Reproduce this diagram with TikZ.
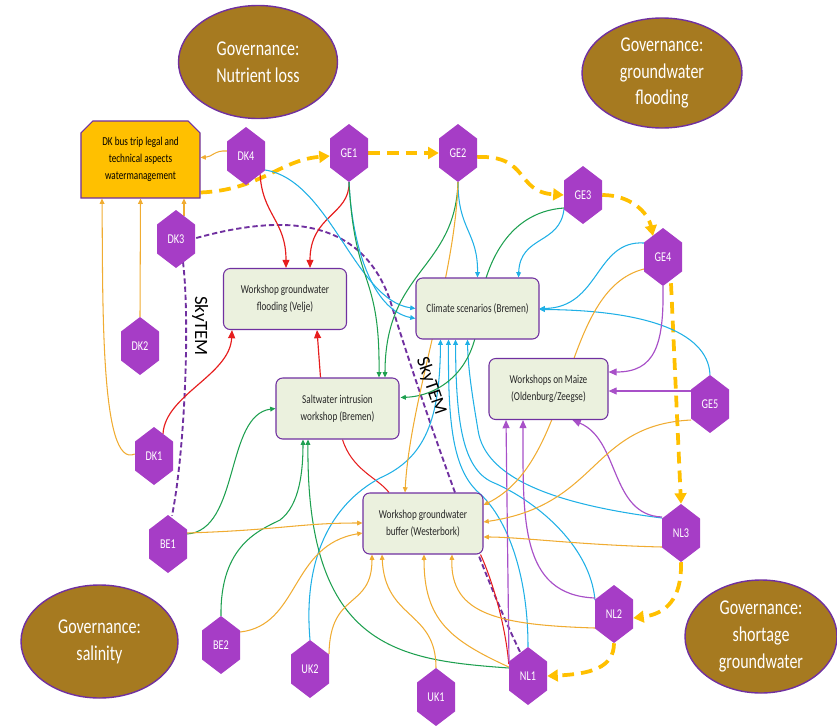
\documentclass[tikz,border=0pt]{standalone}
\usepackage{fontspec}
\setmainfont{Carlito}[FakeStretch=0.76]
\newfontfamily\skyfont{Carlito}
\usetikzlibrary{arrows.meta, calc, shapes.geometric, shapes.misc}

\definecolor{hexfill}{RGB}{166,61,198}
\definecolor{boxfill}{RGB}{235,241,222}
\definecolor{boxline}{RGB}{112,48,160}
\definecolor{govfill}{RGB}{166,122,32}
\definecolor{busfill}{RGB}{255,192,0}
\definecolor{ochre}{RGB}{240,172,50}
\definecolor{skyblue}{RGB}{32,176,230}
\definecolor{leaf}{RGB}{30,160,80}
\definecolor{alarm}{RGB}{230,30,30}
\definecolor{lilac}{RGB}{168,80,200}
\definecolor{skyline}{RGB}{112,48,160}
\definecolor{inktext}{RGB}{38,38,38}

\pgfdeclarelayer{edges}
\pgfsetlayers{edges,main}

% hexagon: name, centre, label
\newcommand{\hexnode}[3]{%
  \fill[hexfill] ($(#2)+(0,-29)$) -- ++(19,14.5) -- ++(0,29) -- ++(-19,14.5) -- ++(-19,-14.5) -- ++(0,-29) -- cycle;
  \node[hexlabel] (#1) at (#2) {#3};}

\begin{document}
\begin{tikzpicture}[x=0.03cm, y=-0.03cm,
    hexlabel/.style={minimum width=1.14cm, minimum height=1.74cm, inner sep=0pt, text=white, font=\fontsize{11.5}{13}\selectfont},
    wbox/.style={draw=boxline, line width=0.9pt, fill=boxfill, rounded corners=2mm, minimum width=3.69cm, minimum height=1.83cm, align=center, text=inktext, font=\fontsize{10.3}{14.2}\selectfont},
    busbox/.style={chamfered rectangle, chamfered rectangle corners={north west,north east}, chamfered rectangle xsep=7pt, draw=boxline, line width=0.9pt, fill=busfill, minimum width=3.57cm, minimum height=2.31cm, align=center, text=black, font=\fontsize{10.3}{14.5}\selectfont},
    gov/.style={ellipse, draw=boxline, line width=1.2pt, fill=govfill, inner sep=0pt, align=center, text=white, font=\fontsize{18}{23}\selectfont},
    skylabel/.style={inner sep=0pt, text=black, font=\skyfont\fontsize{16}{16}\selectfont},
    thin/.style={line width=0.9pt, -{Triangle[length=4.5pt,width=4pt]}},
    bold/.style={line width=1pt, -{Triangle[length=7pt,width=6pt]}},
    ochreln/.style={thin, draw=ochre},
    cyanln/.style={thin, draw=skyblue},
    greenln/.style={thin, draw=leaf},
    redln/.style={bold, draw=alarm},
    lilacln/.style={bold, draw=lilac},
    govdash/.style={draw=busfill, line width=3.2pt, dash pattern=on 10pt off 6pt, -{Triangle[length=9pt,width=10pt]}},
    skydash/.style={draw=skyline, line width=1.6pt, dash pattern=on 4.5pt off 2.5pt}]
    \useasboundingbox (0,0) rectangle (837,726);

    % governance ellipses
    \node[gov, minimum width=4.77cm, minimum height=3.39cm] (govNutrient) at (258,62) {Governance:\\Nutrient loss};
    \node[gov, minimum width=4.8cm, minimum height=3.3cm] (govFlooding) at (662,73) {Governance:\\groundwater\\flooding};
    \node[gov, minimum width=4.71cm, minimum height=3.39cm] (govSalinity) at (99.5,641.5) {Governance:\\salinity};
    \node[gov, minimum width=4.56cm, minimum height=3.39cm] (govShortage) at (761,636.5) {Governance:\\shortage\\groundwater};

    % workshops
    \node[busbox] (bus) at (140.5,159.5) {DK bus trip legal and\\technical aspects\\watermanagement};
    \node[wbox] (velje) at (285,299) {Workshop groundwater\\flooding (Velje)};
    \node[wbox] (climate) at (477.5,308.5) {Climate scenarios (Bremen)};
    \node[wbox] (salt) at (337.5,408.5) {Saltwater intrusion\\workshop (Bremen)};
    \node[wbox, minimum width=3.57cm] (maize) at (548.5,389) {Workshops on Maize\\(Oldenburg/Zeegse)};
    \node[wbox, minimum width=3.6cm] (buffer) at (423,523.5) {Workshop groundwater\\buffer (Westerbork)};

    % actors
    \hexnode{DK4}{246,156}{DK4}
    \hexnode{DK3}{176,239}{DK3}
    \hexnode{DK2}{140,346}{DK2}
    \hexnode{DK1}{154,456}{DK1}
    \hexnode{GE1}{349,153}{GE1}
    \hexnode{GE2}{458,153}{GE2}
    \hexnode{GE3}{583,195}{GE3}
    \hexnode{GE4}{663,257}{GE4}
    \hexnode{GE5}{710,404}{GE5}
    \hexnode{NL3}{681,533}{NL3}
    \hexnode{NL2}{614,614}{NL2}
    \hexnode{NL1}{528,676}{NL1}
    \hexnode{UK1}{436,697}{UK1}
    \hexnode{UK2}{310,669}{UK2}
    \hexnode{BE2}{221,645}{BE2}
    \hexnode{BE1}{168,544}{BE1}

    \node[skylabel, rotate=-90] (sky1) at (200,326) {SkyTEM};
    \node[skylabel, rotate=-71] (sky2) at (431,386) {SkyTEM};

    \begin{pgfonlayer}{edges}
    % route of the bus trip
    \draw[govdash] ($(bus.east)+(0,33)$) .. controls (260,190) and (280,160) .. ($(GE1.west)+(0,3)$);
    \draw[govdash] (GE1.east) -- (GE2.west);
    \draw[govdash] ($(GE2.east)+(0,4)$) .. controls (530,155) and (515,192) .. (GE3.west);
    \draw[govdash] (GE3.east) .. controls (630,195) and (648,212) .. ($(GE4.center)+(-10,-21)$);
    \draw[govdash] ($(GE4.south)+(8,-3)$) -- (NL3.north);
    \draw[govdash] (NL3.south) .. controls (682,600) and (665,614) .. ($(NL2.east)+(0,4)$);
    \draw[govdash] (NL2.south) .. controls (614,668) and (590,674) .. (NL1.east);

    % SkyTEM
    \draw[skydash] ($(DK3.center)+(7,23)$) .. controls (190,320) and (185,450) .. ($(BE1.north)+(4,1)$);
    \draw[skydash] ($(DK3.east)+(1,-1)$) .. controls (280,215) and (360,215) .. (390,300) .. controls (400,334) and (468,545) .. ($(NL1.north)+(-8,5)$);

    % to the bus trip
    \draw[ochreln] ($(DK4.west)+(0,-5)$) .. controls (215,150) and (212,157) .. ($(bus.east)+(0,-2)$);
    \draw[ochreln] ($(DK3.center)+(8,-23)$) -- ($(bus.south)+(43.5,0)$);
    \draw[ochreln] (DK2.north) -- (bus.south);
    \draw[ochreln] ($(DK1.west)+(0,-2)$) .. controls (100,470) and (103,300) .. ($(bus.south)+(-38.5,0)$);

    % red
    \draw[redln] ($(DK4.center)+(14,17)$) .. controls (262,215) and (286,220) .. ($(velje.north)+(1,0)$);
    \draw[redln] (GE1.south) .. controls (350,215) and (310,215) .. ($(velje.north)+(25,0)$);
    \draw[redln] ($(DK1.center)+(9,-22)$) .. controls (165,395) and (230,375) .. ($(velje.south)+(-53,0)$);
    \draw[redln] ($(salt.north)+(-17,0)$) -- ($(velje.south)+(32,0)$);
    \draw[alarm, line width=0.9pt] ($(salt.south)+(5,0)$) .. controls (352,470) and (378,478) .. ($(buffer.north)+(-34,0)$);
    \draw[alarm, line width=0.9pt] ($(NL1.west)+(0,-12)$) .. controls (505,620) and (490,575) .. ($(buffer.south east)+(-3,0)$);

    % cyan
    \draw[cyanln] ($(DK4.center)+(19,14)$) .. controls (330,180) and (355,300) .. (climate.west);
    \draw[cyanln] (GE1.south) .. controls (352,245) and (372,310) .. ($(climate.west)+(0,10)$);
    \draw[cyanln] (GE2.south) .. controls (458,230) and (478,232) .. (climate.north);
    \draw[cyanln] ($(GE3.center)+(-19,14)$) .. controls (560,245) and (520,235) .. ($(climate.north)+(41,0)$);
    \draw[cyanln] ($(GE4.center)+(-19,-14)$) .. controls (595,240) and (600,308) .. (climate.east);
    \draw[cyanln] (GE5.north) .. controls (708,330) and (640,310) .. ($(climate.east)+(0,1)$);
    \draw[cyanln] (UK2.north) .. controls (303,560) and (330,505) .. (380,478) .. controls (425,458) and (440,420) .. ($(climate.south)+(-37,0)$);
    \draw[cyanln] (NL1.north) .. controls (528,570) and (505,515) .. (478,492) .. controls (452,468) and (448,420) .. ($(climate.south)+(-29,0)$);
    \draw[cyanln] ($(NL2.center)+(-19,-14)$) .. controls (590,545) and (535,500) .. (492,482) .. controls (462,468) and (456,420) .. ($(climate.south)+(-22,0)$);
    \draw[cyanln] ($(NL3.center)+(-19,-15)$) .. controls (560,505) and (485,480) .. (478,430) .. controls (473,400) and (468,370) .. ($(climate.south)+(-10,0)$);

    % green
    \draw[greenln] (GE1.south) .. controls (355,290) and (380,270) .. ($(salt.north)+(41.5,0)$);
    \draw[greenln] (GE2.south) .. controls (455,270) and (385,270) .. ($(salt.north)+(47.5,0)$);
    \draw[greenln] ($(GE3.center)+(-19,13)$) .. controls (505,212) and (482,270) .. (478,320) .. controls (474,370) and (440,396) .. ($(salt.east)+(1,-11)$);
    \draw[greenln] ($(BE1.east)+(0,-10)$) .. controls (240,530) and (225,415) .. (salt.west);
    \draw[greenln] (BE2.north) .. controls (220,545) and (260,530) .. (280,520) .. controls (300,505) and (303,470) .. ($(salt.south)+(-34.5,0)$);
    \draw[greenln] ($(NL1.west)+(0,-8)$) .. controls (400,660) and (306,650) .. ($(salt.south)+(-29.5,0)$);

    % purple
    \draw[lilacln] (GE4.south) .. controls (664,345) and (655,372) .. ($(maize.east)+(0,-17)$);
    \draw[lilacln] ($(GE5.center)+(-19,-13)$) -- ($(maize.east)+(0,2)$);
    \draw[lilacln] ($(NL3.center)+(-19,-16)$) .. controls (610,515) and (620,440) .. ($(maize.south)+(24,0)$);
    \draw[lilacln] ($(NL2.center)+(-19,-16)$) .. controls (520,595) and (523,520) .. ($(maize.south)+(-25.5,0)$);
    \draw[lilacln] ($(NL1.center)+(-19,-14)$) -- ($(maize.south)+(-42.5,0)$);

    % orange
    \draw[ochreln] ($(BE1.east)+(0,-11)$) .. controls (280,530) and (300,523) .. ($(buffer.west)+(0,-0.5)$);
    \draw[ochreln] ($(BE2.east)+(0,-13)$) .. controls (300,625) and (290,545) .. ($(buffer.west)+(0,9.5)$);
    \draw[ochreln] ($(UK2.center)+(19,-15)$) .. controls (330,590) and (372,610) .. ($(buffer.south)+(-51,0)$);
    \draw[ochreln] (UK1.north) .. controls (436,610) and (385,620) .. ($(buffer.south)+(-41,0)$);
    \draw[ochreln] ($(NL1.west)+(0,-9)$) .. controls (450,640) and (424,620) .. ($(buffer.south)+(1,0)$);
    \draw[ochreln] ($(NL2.west)+(0,14)$) .. controls (500,625) and (450,615) .. ($(buffer.south)+(29,0)$);
    \draw[ochreln] ($(NL3.west)+(0,14)$) .. controls (580,545) and (520,537) .. ($(buffer.east)+(0,13.5)$);
    \draw[ochreln] ($(GE5.center)+(-19,16)$) .. controls (590,425) and (600,505) .. ($(buffer.east)+(0,-1.5)$);
    \draw[ochreln] ($(GE4.center)+(-19,12)$) .. controls (560,290) and (575,460) .. ($(buffer.east)+(0,-18.5)$);
    \draw[ochreln] (GE2.south) .. controls (455,280) and (410,400) .. ($(buffer.north)+(-18,0)$);
    \end{pgfonlayer}
\end{tikzpicture}
\end{document}
